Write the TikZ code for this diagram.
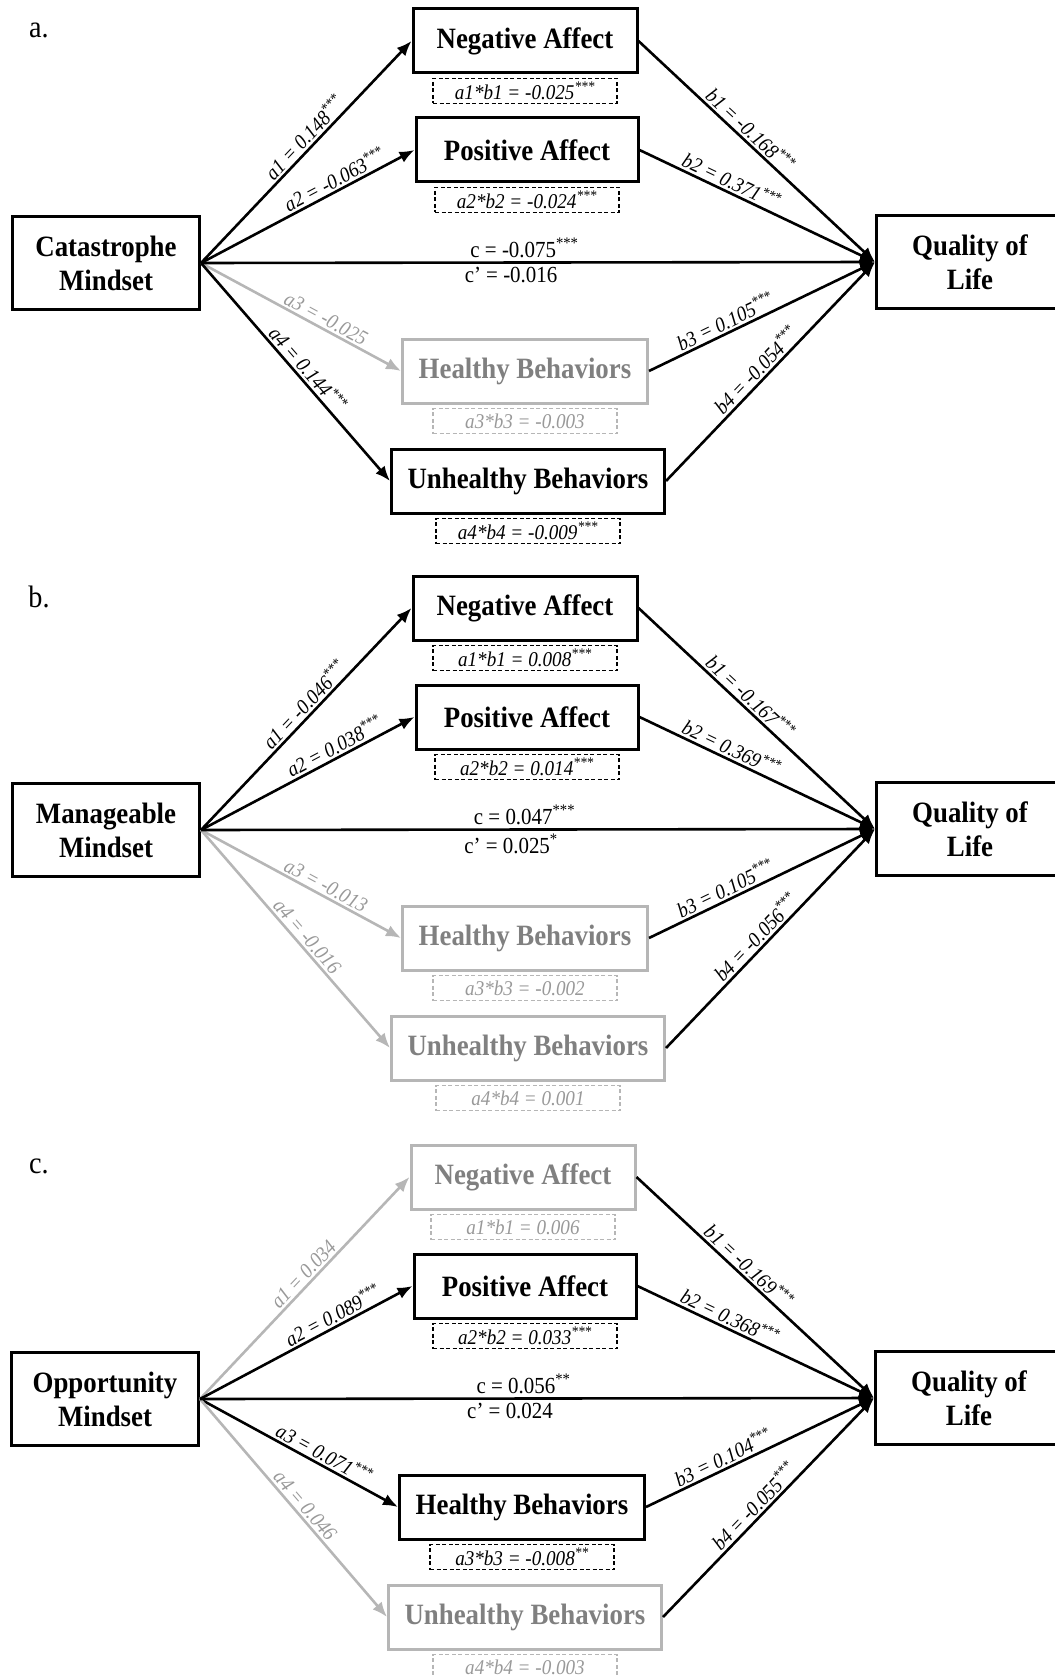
\documentclass[tikz,border=0pt]{standalone}
\usepackage{fontspec}
\setmainfont{Liberation Serif}[FakeStretch=0.91]
\usetikzlibrary{arrows.meta}

\definecolor{greyline}{HTML}{B6B6B6}
\definecolor{greytext}{HTML}{808080}
\definecolor{greylab}{HTML}{999999}

\tikzset{
  varbox/.style={draw, rectangle, line width=3pt, minimum height=64pt, inner sep=0pt,
    align=center, font=\fontsize{29.5}{34}\selectfont\bfseries},
  endbox/.style={varbox, minimum width=187pt, minimum height=93pt},
  indbox/.style={draw, rectangle, line width=1.4pt, dash pattern=on 4pt off 2.5pt,
    minimum width=184pt, minimum height=25pt, inner sep=0pt,
    font=\fontsize{21}{23}\selectfont\itshape},
  greybox/.style={draw=greyline, text=greytext},
  greyind/.style={draw=greyline, text=greylab},
  effect/.style={->, line width=2.6pt},
  greyeffect/.style={effect, draw=greyline},
  coef/.style={sloped, above, inner sep=2pt, font=\fontsize{21}{23}\selectfont\itshape},
  greycoef/.style={coef, text=greylab},
  totlab/.style={inner sep=3pt, font=\fontsize{23}{25}\selectfont},
  panellab/.style={font=\fontsize{31}{33}\selectfont}
}

\begin{document}
\begin{tikzpicture}[x=1pt, y=-1pt, node distance=50pt, >={Latex[length=15pt,width=12pt]}]
\useasboundingbox (0,0) rectangle (1054,1677);

% panel a
\node (labA) [panellab] at (39,30) {a.};
\node (catA) [endbox] at (106,263) {Catastrophe\\Mindset};
\node (qolA) [endbox] at (970,262) {Quality of\\Life};
\node (negA) [varbox, minimum width=224pt] at (525,41) {Negative Affect};
\node (posA) [varbox, minimum width=222pt] at (527,150) {Positive Affect};
\node (heaA) [varbox, greybox, minimum width=245pt] at (525,371) {Healthy Behaviors};
\node (unhA) [varbox, minimum width=273pt] at (528,481) {Unhealthy Behaviors};
\node (ab1A) [indbox, below of=negA] {a1*b1 = -0.025\textsuperscript{***}};
\node (ab2A) [indbox, below of=posA] {a2*b2 = -0.024\textsuperscript{***}};
\node (ab3A) [indbox, greyind, below of=heaA] {a3*b3 = -0.003};
\node (ab4A) [indbox, below of=unhA] {a4*b4 = -0.009\textsuperscript{***}};

\draw[effect] (catA.east) -- (negA.west) node[coef, pos=.53] {a1 = 0.148\textsuperscript{***}};
\draw[effect] (catA.east) -- (posA.west) node[coef, pos=.65] {a2 = -0.063\textsuperscript{***}};
\draw[greyeffect] (catA.east) -- (heaA.west) node[greycoef, pos=.6] {a3 = -0.025};
\draw[effect] (catA.east) -- (unhA.west) node[coef, pos=.52] {a4 = 0.144\textsuperscript{***}};
\draw[effect] (catA.east) -- (qolA.west)
  node[totlab, above, pos=.48] {c = -0.075\textsuperscript{***}}
  node[totlab, below, pos=.46] {c’ = -0.016};
\draw[effect] (negA.east) -- (qolA.west) node[coef, pos=.44] {b1 = -0.168\textsuperscript{***}};
\draw[effect] (posA.east) -- (qolA.west) node[coef, pos=.37] {b2 = 0.371\textsuperscript{***}};
\draw[effect] (heaA.east) -- (qolA.west) node[coef, pos=.36] {b3 = 0.105\textsuperscript{***}};
\draw[effect] (unhA.east) -- (qolA.west) node[coef, pos=.47] {b4 = -0.054\textsuperscript{***}};

% panel b
\begin{scope}[shift={(0,567)}]
\node (labB) [panellab] at (39,30) {b.};
\node (manB) [endbox] at (106,263) {Manageable\\Mindset};
\node (qolB) [endbox] at (970,262) {Quality of\\Life};
\node (negB) [varbox, minimum width=224pt] at (525,41) {Negative Affect};
\node (posB) [varbox, minimum width=222pt] at (527,150) {Positive Affect};
\node (heaB) [varbox, greybox, minimum width=245pt] at (525,371) {Healthy Behaviors};
\node (unhB) [varbox, greybox, minimum width=273pt] at (528,481) {Unhealthy Behaviors};
\node (ab1B) [indbox, below of=negB] {a1*b1 = 0.008\textsuperscript{***}};
\node (ab2B) [indbox, below of=posB] {a2*b2 = 0.014\textsuperscript{***}};
\node (ab3B) [indbox, greyind, below of=heaB] {a3*b3 = -0.002};
\node (ab4B) [indbox, greyind, below of=unhB] {a4*b4 = 0.001};

\draw[effect] (manB.east) -- (negB.west) node[coef, pos=.53] {a1 = -0.046\textsuperscript{***}};
\draw[effect] (manB.east) -- (posB.west) node[coef, pos=.65] {a2 = 0.038\textsuperscript{***}};
\draw[greyeffect] (manB.east) -- (heaB.west) node[greycoef, pos=.6] {a3 = -0.013};
\draw[greyeffect] (manB.east) -- (unhB.west) node[greycoef, pos=.52] {a4 = -0.016};
\draw[effect] (manB.east) -- (qolB.west)
  node[totlab, above, pos=.48] {c = 0.047\textsuperscript{***}}
  node[totlab, below, pos=.46] {c’ = 0.025\textsuperscript{*}};
\draw[effect] (negB.east) -- (qolB.west) node[coef, pos=.44] {b1 = -0.167\textsuperscript{***}};
\draw[effect] (posB.east) -- (qolB.west) node[coef, pos=.37] {b2 = 0.369\textsuperscript{***}};
\draw[effect] (heaB.east) -- (qolB.west) node[coef, pos=.36] {b3 = 0.105\textsuperscript{***}};
\draw[effect] (unhB.east) -- (qolB.west) node[coef, pos=.47] {b4 = -0.056\textsuperscript{***}};
\end{scope}

% panel c
\begin{scope}[shift={(0,1136)}]
\node (labC) [panellab] at (39,30) {c.};
\node (oppC) [endbox] at (105,263) {Opportunity\\Mindset};
\node (qolC) [endbox] at (969,262) {Quality of\\Life};
\node (negC) [varbox, greybox, minimum width=224pt] at (523,41) {Negative Affect};
\node (posC) [varbox, minimum width=222pt] at (525,150) {Positive Affect};
\node (heaC) [varbox, minimum width=245pt] at (522,371) {Healthy Behaviors};
\node (unhC) [varbox, greybox, minimum width=273pt] at (525,481) {Unhealthy Behaviors};
\node (ab1C) [indbox, greyind, below of=negC] {a1*b1 = 0.006};
\node (ab2C) [indbox, below of=posC] {a2*b2 = 0.033\textsuperscript{***}};
\node (ab3C) [indbox, below of=heaC] {a3*b3 = -0.008\textsuperscript{**}};
\node (ab4C) [indbox, greyind, below of=unhC] {a4*b4 = -0.003};

\draw[greyeffect] (oppC.east) -- (negC.west) node[greycoef, pos=.53] {a1 = 0.034};
\draw[effect] (oppC.east) -- (posC.west) node[coef, pos=.65] {a2 = 0.089\textsuperscript{***}};
\draw[effect] (oppC.east) -- (heaC.west) node[coef, pos=.6] {a3 = 0.071\textsuperscript{***}};
\draw[greyeffect] (oppC.east) -- (unhC.west) node[greycoef, pos=.52] {a4 = 0.046};
\draw[effect] (oppC.east) -- (qolC.west)
  node[totlab, above, pos=.48] {c = 0.056\textsuperscript{**}}
  node[totlab, below, pos=.46] {c’ = 0.024};
\draw[effect] (negC.east) -- (qolC.west) node[coef, pos=.44] {b1 = -0.169\textsuperscript{***}};
\draw[effect] (posC.east) -- (qolC.west) node[coef, pos=.37] {b2 = 0.368\textsuperscript{***}};
\draw[effect] (heaC.east) -- (qolC.west) node[coef, pos=.36] {b3 = 0.104\textsuperscript{***}};
\draw[effect] (unhC.east) -- (qolC.west) node[coef, pos=.47] {b4 = -0.055\textsuperscript{***}};
\end{scope}
\end{tikzpicture}
\end{document}
